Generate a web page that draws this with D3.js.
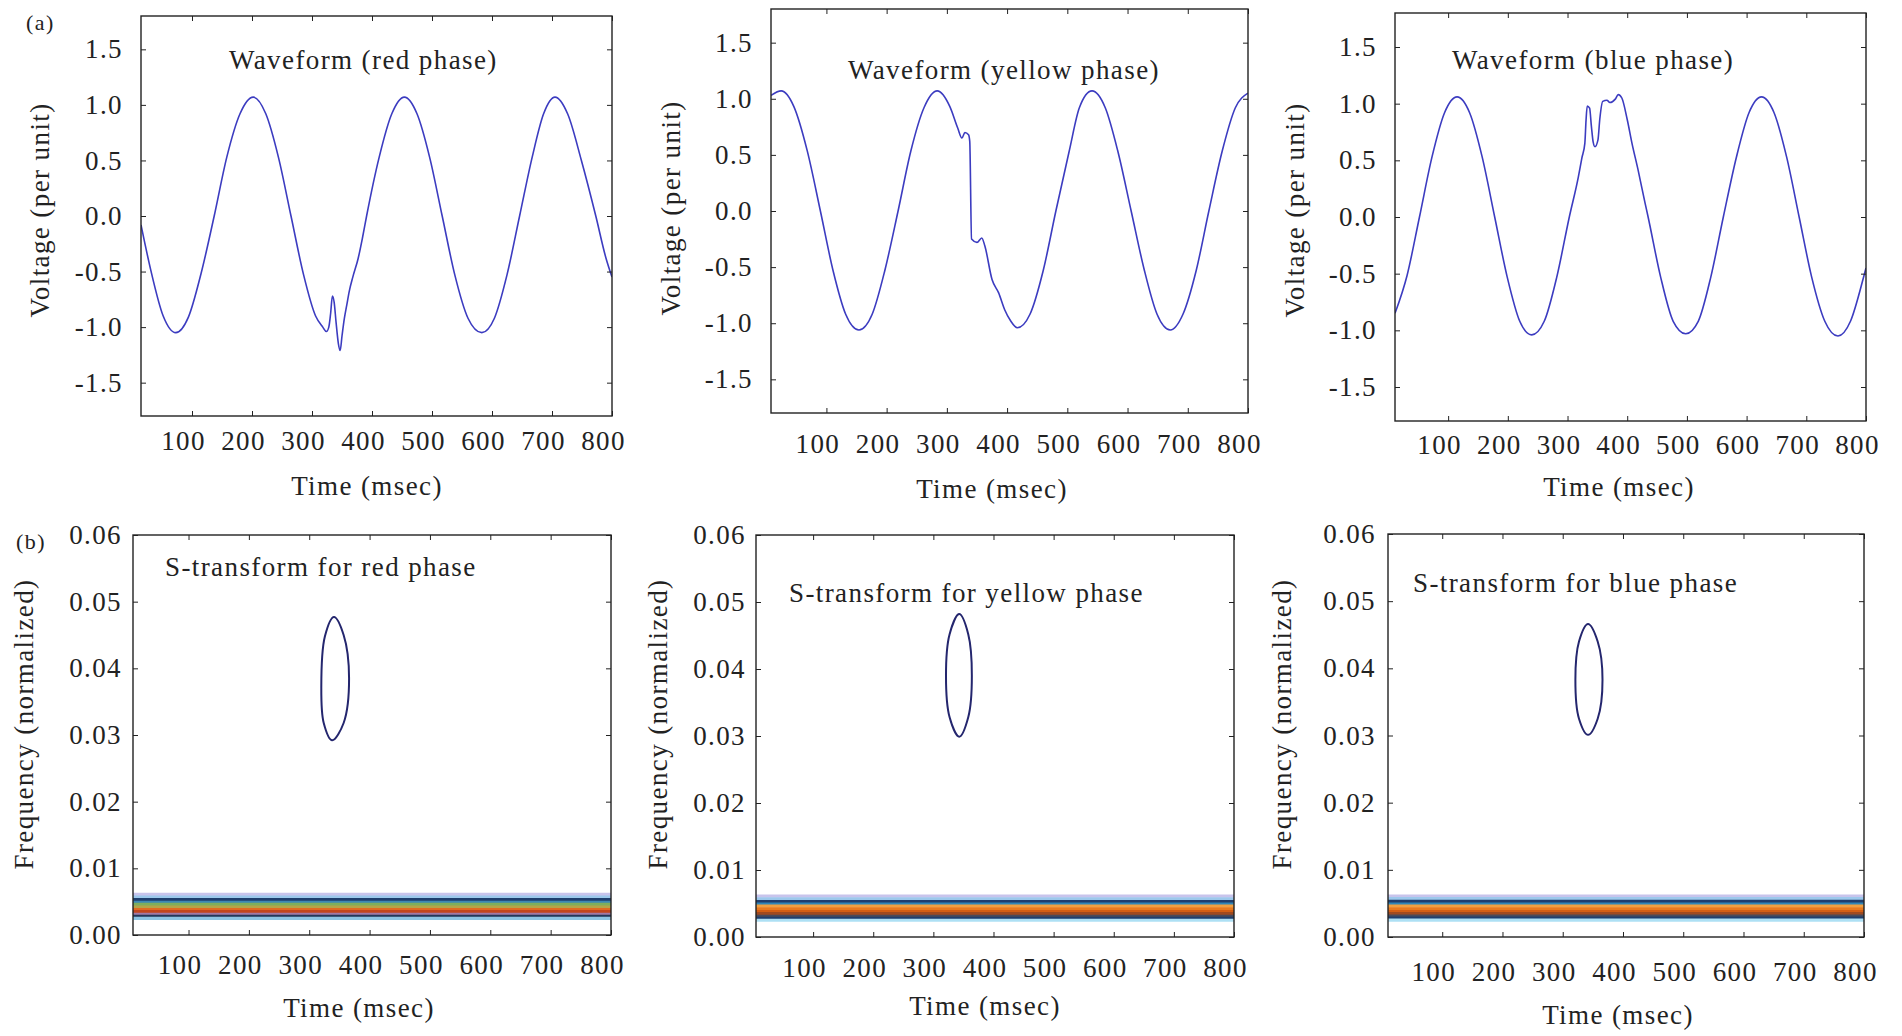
<!DOCTYPE html>
<html>
<head>
<meta charset="UTF-8" />
<script src="https://d3js.org/d3.v7.min.js"></script>
<style>
  body { margin: 0; background: #fff; }
  svg text { font-family: "Liberation Serif", "Times New Roman", serif; font-size: 27px; letter-spacing: 1.4px; fill: #222; }
</style>
</head>
<body>
<div id="chart"></div>
<script>
// ---- data ----
const timeTicks = [100, 200, 300, 400, 500, 600, 700, 800];
const voltTicks = [-1.5, -1.0, -0.5, 0.0, 0.5, 1.0, 1.5];
const freqTicks = [0.00, 0.01, 0.02, 0.03, 0.04, 0.05, 0.06];

// [time msec, voltage p.u.]
const redWave = [[15,-0.08],[31,-0.48],[52,-0.90],[73,-1.05],[94,-0.91],[115,-0.52],[137,0.0],[158,0.53],[180,0.92],[202,1.07],[223,0.92],[244,0.53],[265,0.0],[286,-0.53],[306,-0.90],[318,-1.0],[324,-1.04],[328,-1.0],[331,-0.88],[334,-0.72],[337,-0.78],[340,-0.95],[344,-1.15],[347,-1.21],[350,-1.08],[354,-0.92],[358,-0.80],[362,-0.68],[368,-0.55],[377,-0.38],[384,-0.20],[391,0.0],[412,0.53],[433,0.92],[454,1.07],[475,0.92],[496,0.53],[517,0.0],[538,-0.53],[560,-0.92],[583,-1.05],[604,-0.92],[625,-0.53],[646,0.0],[667,0.53],[686,0.92],[705,1.07],[726,0.92],[749,0.50],[773,0.0],[790,-0.38],[800,-0.55]];
const yellowWave = [[8,1.03],[25,1.07],[46,0.93],[68,0.54],[90,0.0],[111,-0.53],[132,-0.92],[154,-1.06],[176,-0.92],[197,-0.53],[219,0.0],[240,0.53],[262,0.92],[284,1.07],[305,0.93],[318,0.74],[325,0.65],[330,0.70],[336,0.68],[338,0.62],[341,-0.25],[350,-0.28],[358,-0.24],[363,-0.31],[375,-0.61],[386,-0.73],[396,-0.88],[406,-0.98],[417,-1.04],[438,-0.92],[460,-0.53],[481,0.0],[503,0.53],[520,0.92],[541,1.07],[563,0.92],[584,0.53],[606,0.0],[628,-0.53],[649,-0.92],[671,-1.06],[692,-0.92],[714,-0.53],[735,0.0],[757,0.53],[779,0.92],[800,1.05]];
const blueWave = [[11,-0.85],[31,-0.52],[52,0.0],[73,0.53],[94,0.92],[115,1.06],[136,0.92],[157,0.53],[178,0.0],[199,-0.53],[220,-0.92],[240,-1.04],[261,-0.92],[282,-0.53],[303,0.0],[318,0.35],[324,0.52],[329,0.65],[331,0.85],[333,0.98],[337,0.96],[340,0.80],[343,0.66],[346,0.62],[351,0.68],[354,0.86],[359,1.02],[366,1.03],[371,1.01],[380,1.04],[385,1.08],[391,1.05],[400,0.86],[408,0.65],[418,0.42],[430,0.12],[435,0.0],[456,-0.53],[477,-0.92],[498,-1.03],[519,-0.92],[540,-0.53],[561,0.0],[583,0.53],[604,0.92],[625,1.06],[646,0.92],[667,0.53],[688,0.0],[709,-0.53],[731,-0.92],[753,-1.05],[774,-0.92],[795,-0.55],[800,-0.45]];

// S-transform: closed contour around the disturbance [time, normalized freq]
const redContour = [[341,0.0477],[357,0.0450],[366,0.0385],[357,0.0318],[338,0.0292],[324,0.0318],[320,0.0372],[326,0.0448]];
const yellowContour = [[343,0.0482],[358,0.0452],[364,0.0390],[358,0.0328],[343,0.0299],[327,0.0328],[321,0.0390],[327,0.0452]];
const blueContour = [[342,0.0466],[358,0.0440],[366,0.0383],[358,0.0325],[342,0.0301],[327,0.0325],[321,0.0383],[327,0.0440]];

// fundamental-frequency contour levels (normalized freq) and their colours
const bandLevels = [0.0061, 0.0057, 0.0053, 0.0049, 0.0046, 0.0042, 0.0038, 0.0035, 0.0031, 0.0028, 0.0025];
const redBandColors = ["#c8c4ec", "#9cc8ec", "#1f3e6e", "#3c88b4", "#7fae5c", "#b5a448", "#e06a22", "#c2461e", "#a07aa8", "#22375a", "#8cc4e4"];
const otherBandColors = ["#c8c4ec", "#9cc8ec", "#1f3e6e", "#2f86b8", "#f0a040", "#e87a1e", "#d45e14", "#a04a20", "#4a4a5a", "#1f3e6e", "#aee0f4"];

const panelTitles = ["Waveform (red phase)", "Waveform (yellow phase)", "Waveform (blue phase)",
                     "S-transform for red phase", "S-transform for yellow phase", "S-transform for blue phase"];

// ---- layout (pixels) ----
const panels = [
  {kind: "wave", data: redWave,    t0: 15, left: 141,  right: 612,  top: 16,  bottom: 416, xPad: 15, yPad: 18, title: [229, 60],   xTitle: [367, 486],   yTitle: [40, 210]},
  {kind: "wave", data: yellowWave, t0: 8,  left: 771,  right: 1248, top: 9,   bottom: 413, xPad: 21, yPad: 18, title: [848, 70],   xTitle: [992, 489],   yTitle: [671, 208]},
  {kind: "wave", data: blueWave,   t0: 11, left: 1395, right: 1866, top: 13,  bottom: 421, xPad: 14, yPad: 18, title: [1452, 60],  xTitle: [1619, 487],  yTitle: [1295, 210]},
  {kind: "st", contour: redContour,    bands: redBandColors,   t0: 8,  left: 133,  right: 611,  top: 535, bottom: 935, xPad: 20, yPad: 11, title: [165, 567],  xTitle: [359, 1008],  yTitle: [24, 724]},
  {kind: "st", contour: yellowContour, bands: otherBandColors, t0: 5,  left: 756,  right: 1234, top: 535, bottom: 937, xPad: 21, yPad: 10, title: [789, 593],  xTitle: [985, 1006],  yTitle: [658, 724]},
  {kind: "st", contour: blueContour,   bands: otherBandColors, t0: 10, left: 1388, right: 1864, top: 534, bottom: 937, xPad: 25, yPad: 12, title: [1413, 583], xTitle: [1618, 1015], yTitle: [1282, 724]}
];

const svg = d3.select("#chart").append("svg")
  .attr("width", 1902)
  .attr("height", 1036);

panels.forEach((p, i) => {
  const x = d3.scaleLinear().domain([p.t0, 800]).range([p.left, p.right]);
  const y = p.kind === "wave"
    ? d3.scaleLinear().domain([-1.8, 1.8]).range([p.bottom, p.top])
    : d3.scaleLinear().domain([0, 0.06]).range([p.bottom, p.top]);
  const yTicks = p.kind === "wave" ? voltTicks : freqTicks;
  const yFmt = p.kind === "wave" ? (d => d.toFixed(1)) : (d => d.toFixed(2));

  const g = svg.append("g").style("color", "#222");

  svg.append("clipPath").attr("id", "clip" + i)
    .append("rect")
    .attr("x", p.left).attr("y", p.top)
    .attr("width", p.right - p.left).attr("height", p.bottom - p.top);

  const plot = g.append("g").attr("clip-path", `url(#clip${i})`);

  if (p.kind === "wave") {
    plot.append("path")
      .datum(p.data)
      .attr("fill", "none")
      .attr("stroke", "#3c3cc0")
      .attr("stroke-width", 1.6)
      .attr("stroke-linejoin", "round")
      .attr("d", d3.line().x(d => x(d[0])).y(d => y(d[1])).curve(d3.curveMonotoneX));
  } else {
    // horizontal contour bands at the fundamental frequency
    plot.selectAll("line.band")
      .data(bandLevels)
      .join("line")
      .attr("class", "band")
      .attr("x1", x(p.t0)).attr("x2", x(800))
      .attr("y1", d => y(d)).attr("y2", d => y(d))
      .attr("stroke", (d, k) => p.bands[k])
      .attr("stroke-width", 3.2);

    plot.append("path")
      .datum(p.contour)
      .attr("fill", "none")
      .attr("stroke", "#24266e")
      .attr("stroke-width", 2)
      .attr("d", d3.line().x(d => x(d[0])).y(d => y(d[1])).curve(d3.curveCatmullRomClosed));
  }

  // axes, ticks pointing inwards on every side
  g.append("g")
    .attr("transform", `translate(0,${p.bottom})`)
    .call(d3.axisBottom(x).tickValues(timeTicks).tickSize(-5).tickPadding(p.xPad).tickFormat(d => d))
    .call(a => a.select(".domain").remove())
    .call(a => a.selectAll("text").attr("dx", -9));

  g.append("g")
    .attr("transform", `translate(0,${p.top})`)
    .call(d3.axisTop(x).tickValues(timeTicks).tickSize(-5).tickFormat(""))
    .call(a => a.select(".domain").remove());

  g.append("g")
    .attr("transform", `translate(${p.left},0)`)
    .call(d3.axisLeft(y).tickValues(yTicks).tickSize(-5).tickPadding(p.yPad).tickFormat(yFmt))
    .call(a => a.select(".domain").remove());

  g.append("g")
    .attr("transform", `translate(${p.right},0)`)
    .call(d3.axisRight(y).tickValues(yTicks).tickSize(-5).tickFormat(""))
    .call(a => a.select(".domain").remove());

  g.append("rect")
    .attr("x", p.left).attr("y", p.top)
    .attr("width", p.right - p.left).attr("height", p.bottom - p.top)
    .attr("fill", "none")
    .attr("stroke", "#222")
    .attr("stroke-width", 1.4);

  // texts
  g.append("text")
    .attr("x", p.title[0]).attr("y", p.title[1]).attr("dy", "0.35em")
    .text(panelTitles[i]);

  g.append("text")
    .attr("x", p.xTitle[0]).attr("y", p.xTitle[1]).attr("dy", "0.35em")
    .attr("text-anchor", "middle")
    .text("Time (msec)");

  g.append("text")
    .attr("transform", `translate(${p.yTitle[0]},${p.yTitle[1]}) rotate(-90)`)
    .attr("dy", "0.35em")
    .attr("text-anchor", "middle")
    .text(p.kind === "wave" ? "Voltage (per unit)" : "Frequency (normalized)");
});

svg.append("text").attr("x", 26).attr("y", 22).attr("dy", "0.35em").style("font-size", "22px").text("(a)");
svg.append("text").attr("x", 16).attr("y", 541).attr("dy", "0.35em").style("font-size", "22px").text("(b)");
</script>
</body>
</html>
